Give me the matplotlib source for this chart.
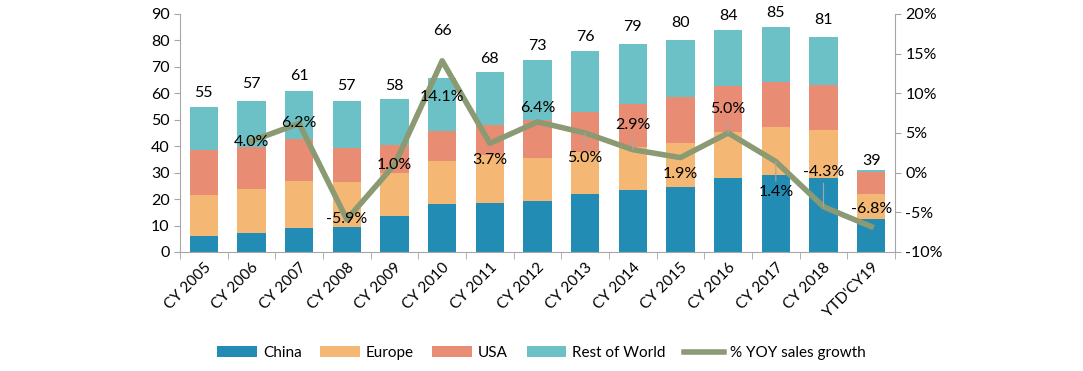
import numpy as np
import matplotlib

matplotlib.use("Agg")
import matplotlib.pyplot as plt
from matplotlib.ticker import FuncFormatter

plt.rcParams["font.family"] = ["Lato", "DejaVu Sans"]

years = ["CY 2005", "CY 2006", "CY 2007", "CY 2008", "CY 2009", "CY 2010", "CY 2011",
         "CY 2012", "CY 2013", "CY 2014", "CY 2015", "CY 2016", "CY 2017", "CY 2018", "YTD'CY19"]
china = [5.9, 7.1, 9.0, 9.5, 13.5, 18.1, 18.5, 19.2, 21.8, 23.4, 24.5, 28.0, 29.2, 28.0, 12.4]
europe = [15.6, 16.6, 17.8, 16.9, 16.5, 16.2, 18.1, 16.2, 16.1, 16.4, 16.8, 17.3, 18.1, 18.1, 9.7]
usa = [17.0, 16.1, 15.8, 12.9, 10.4, 11.4, 11.4, 14.5, 15.1, 16.1, 17.2, 17.5, 17.0, 17.0, 8.0]
row = [16.3, 17.3, 18.3, 17.8, 17.4, 20.0, 20.0, 22.7, 23.1, 22.8, 21.7, 21.2, 20.9, 18.3, 0.8]
totals = [55, 57, 61, 57, 58, 66, 68, 73, 76, 79, 80, 84, 85, 81, 39]
growth = [np.nan, 4.0, 6.2, -5.9, 1.0, 14.1, 3.7, 6.4, 5.0, 2.9, 1.9, 5.0, 1.4, -4.3, -6.8]

# label offsets (points): totals above bar tops, growth labels relative to the line point
tot_dy = [10, 12, 11, 11, 9.5, 34, 9.5, 10, 10, 12, 12, 10, 9.5, 12, 7]
lbl_dy = [0, -1, 0, 0, 0, -26, -12, 10, -18, 18, -12, 17, -22, 25, 13]
leader = [False, False, False, False, False, False, False, False, True, True, False, True, True, True, False]

c_china, c_eu, c_usa, c_row, c_line = "#238CB4", "#F4B874", "#E88C73", "#6BC1C6", "#8B9A73"

fig = plt.figure(figsize=(10.83, 3.71), dpi=100)
ax = fig.add_axes([0.1662, 0.3208, 0.6602, 0.6415])
x = np.arange(len(years))
w = 0.59
b1 = np.array(china)
b2 = b1 + np.array(europe)
b3 = b2 + np.array(usa)
ax.bar(x, china, w, color=c_china, label="China", zorder=2)
ax.bar(x, europe, w, bottom=b1, color=c_eu, label="Europe", zorder=2)
ax.bar(x, usa, w, bottom=b2, color=c_usa, label="USA", zorder=2)
ax.bar(x, row, w, bottom=b3, color=c_row, label="Rest of World", zorder=2)
tops = b3 + np.array(row)
for i, t in enumerate(totals):
    ax.annotate(str(t), (x[i], tops[i]), xytext=(0, tot_dy[i]), textcoords="offset points",
                ha="center", va="center", fontsize=11.5)

ax.set_xlim(-0.5, len(years) - 0.5)
ax.set_ylim(0, 90)
ax.set_yticks(range(0, 91, 10))
ax.set_xticks(x)
ax.set_xticklabels(years, rotation=45, ha="right", rotation_mode="anchor", fontsize=11)
ax.set_xticks(np.arange(-0.5, len(years)), minor=True)
ax.tick_params(axis="x", which="major", length=0, pad=6)
ax.tick_params(axis="x", which="minor", length=5, color="#A6A6A6")
ax.tick_params(axis="y", length=4, color="#A6A6A6", labelsize=11.5)
for s in ["top", "right"]:
    ax.spines[s].set_visible(False)
for s in ["left", "bottom"]:
    ax.spines[s].set_color("#A6A6A6")

ax2 = ax.twinx()
ax2.set_ylim(-10, 20)
ax2.set_yticks(range(-10, 21, 5))
ax2.yaxis.set_major_formatter(FuncFormatter(lambda v, p: f"{v:.0f}%"))
ax2.tick_params(axis="y", length=4, color="#A6A6A6", labelsize=11.5)
for s in ["top", "left", "bottom"]:
    ax2.spines[s].set_visible(False)
ax2.spines["right"].set_color("#A6A6A6")
ax2.plot(x, growth, color=c_line, lw=4, label="% YOY sales growth", zorder=3)
for i, g in enumerate(growth):
    if np.isnan(g):
        continue
    arrow = dict(arrowstyle="-", color="#A6A6A6", lw=0.8, shrinkA=1, shrinkB=0) if leader[i] else None
    ax2.annotate(f"{g:.1f}%", (x[i], g), xytext=(0, lbl_dy[i]), textcoords="offset points",
                 ha="center", va="center", fontsize=11.5, arrowprops=arrow, zorder=4)

h1, l1 = ax.get_legend_handles_labels()
h2, l2 = ax2.get_legend_handles_labels()
fig.legend(h1 + h2, l1 + l2, loc="center", bbox_to_anchor=(0.5, 0.048), ncol=5,
           frameon=False, fontsize=11, handlelength=2.6, handleheight=0.7, columnspacing=1.2,
           handletextpad=0.4)

fig.savefig("out.png", dpi=100)
